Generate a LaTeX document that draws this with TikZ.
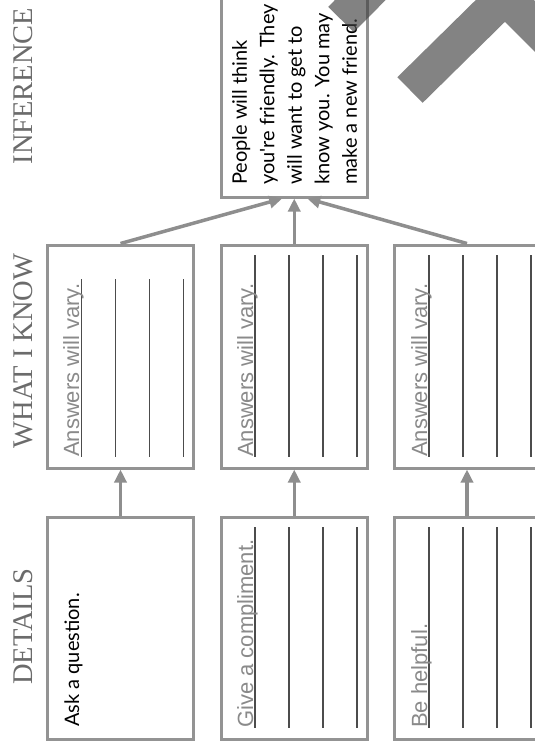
\documentclass[tikz,border=0pt]{standalone}
\usepackage{fontspec}
\setmainfont{Liberation Serif}
\newfontfamily\bodyfont{Lato}
\newfontfamily\ansfont{Liberation Sans}
\usetikzlibrary{arrows.meta}
\definecolor{bordergray}{HTML}{939393}
\definecolor{arrowgray}{HTML}{8E8E8E}
\definecolor{headgray}{HTML}{6B6B6B}
\definecolor{ansgray}{HTML}{8A8A8A}
\tikzset{
  box/.style={draw=bordergray, line width=3pt, rectangle, inner sep=0pt, fill=white},
  rline/.style={draw=black!70, line width=1.3pt},
  answer/.style={rotate=90, anchor=base west, inner sep=0pt, text=ansgray, font=\ansfont\fontsize{22}{26}\selectfont},
  bodytext/.style={rotate=90, inner sep=0pt, text=black, font=\bodyfont\fontsize{20}{27.5}\selectfont},
  head/.style={rotate=90, inner sep=0pt, text=headgray, font=\fontsize{28.5}{32}\selectfont},
  arr/.style={draw=arrowgray, line width=3.5pt, -{Triangle[length=13pt,width=12pt]}},
  band/.style={draw=black!75, opacity=0.65, line width=36pt}
}
\begin{document}
\begin{tikzpicture}[x=1pt,y=-1pt]
\useasboundingbox (0,0) rectangle (535,747);
\clip (0,0) rectangle (535,747);
% headings
\node[head] (hd) at (23,626.5) {DETAILS};
\node[head] (hw) at (23,351) {WHAT I KNOW};
\node[head] (hi) at (23,86) {INFERENCE};
% boxes
\node[box, minimum width=146pt, minimum height=222pt] (d1) at (120.5,628) {};
\node[box, minimum width=145.5pt, minimum height=222pt] (d2) at (294.25,628) {};
\node[box, minimum width=146pt, minimum height=222pt] (d3) at (467,628) {};
\node[box, minimum width=146pt, minimum height=223pt] (w1) at (120.5,356.5) {};
\node[box, minimum width=145.5pt, minimum height=223pt] (w2) at (294.25,356.5) {};
\node[box, minimum width=146pt, minimum height=223pt] (w3) at (467,356.5) {};
\node[box, minimum width=145.5pt, minimum height=217pt] (inf) at (294.25,88.5) {};
% writing lines
\foreach \x in {81.3,115.7,149.3,183.3} \draw[rline] (\x,279) -- (\x,457);
\foreach \x in {255,289,323,357} {
  \draw[rline] (\x,255) -- (\x,457);
  \draw[rline] (\x,527) -- (\x,728);
}
\foreach \x in {429,463,497,531} {
  \draw[rline] (\x,255) -- (\x,457);
  \draw[rline] (\x,527) -- (\x,728);
}
% texts
\node[bodytext, anchor=base west] (t1) at (79,727) {Ask a question.};
\node[answer] (t2) at (253,728) {Give a compliment.};
\node[answer] (t3) at (427,728) {Be helpful.};
\node[answer] (a1) at (79,457) {Answers will vary.};
\node[answer] (a2) at (253,457) {Answers will vary.};
\node[answer] (a3) at (427,457) {Answers will vary.};
\node[bodytext, anchor=north west, align=left] (it) at (232,185) {People will think\\you're friendly. They\\will want to get to\\know you. You may\\make a new friend.};
% arrows
\draw[arr] (d1.north) -- (w1.south);
\draw[arr] (d2.north) -- (w2.south);
\draw[arr] (d3.north) -- (w3.south);
\draw[arr] (w1.north) -- ([xshift=-12pt]inf.south);
\draw[arr] (w2.north) -- (inf.south);
\draw[arr] (w3.north) -- ([xshift=13pt]inf.south);
% gray marks
\draw[band] (341,19.5) -- (400,-40);
\draw[band, miter limit=4] (410,90) -- (505,-3.5) -- (600,91.5);
\end{tikzpicture}
\end{document}
